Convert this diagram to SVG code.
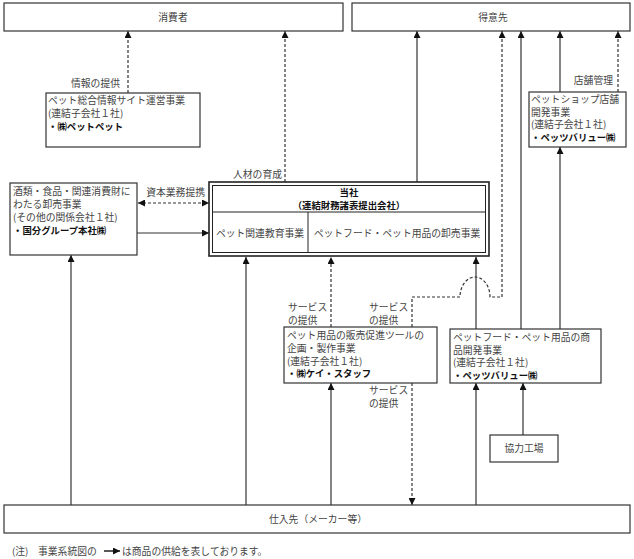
<svg xmlns="http://www.w3.org/2000/svg" width="634" height="559" viewBox="0 0 634 559">
<style>
text{font-family:"Noto Sans CJK JP","Noto Sans",sans-serif;font-size:9.8px;fill:#444}
.b{font-weight:bold;fill:#111;font-size:9.4px}
.c{text-anchor:middle}
.box{fill:#fff;stroke:#333;stroke-width:1.2}
.s{fill:none;stroke:#333;stroke-width:1.2}
.d{fill:none;stroke:#333;stroke-width:1.2;stroke-dasharray:3 2}
</style>
<defs>
<marker id="a" viewBox="0 0 8 8" refX="8" refY="4" markerWidth="7" markerHeight="7" markerUnits="userSpaceOnUse" orient="auto-start-reverse">
<path d="M0,0 L8,4 L0,8 z" fill="#111"/>
</marker>
</defs>
<rect x="0" y="0" width="634" height="559" fill="#fff"/>

<g id="connectors">
<line class="d" x1="128" y1="93" x2="128" y2="31" marker-end="url(#a)"/>
<line class="d" x1="285" y1="182" x2="285" y2="31" marker-end="url(#a)"/>
<line class="s" x1="417" y1="182" x2="417" y2="31" marker-end="url(#a)"/>
<path class="d" d="M412,327 L412,297 L460,297 A15,20 0 0 1 490,297 L502,297 L502,31" marker-end="url(#a)"/>
<line class="s" x1="521" y1="329" x2="521" y2="31" marker-end="url(#a)"/>
<line class="s" x1="560" y1="92" x2="560" y2="31" marker-end="url(#a)"/>
<line class="d" x1="618" y1="92" x2="618" y2="31" marker-end="url(#a)"/>
<line class="s" x1="560" y1="329" x2="560" y2="147" marker-end="url(#a)"/>
<line class="d" x1="138" y1="203" x2="209" y2="203" marker-start="url(#a)" marker-end="url(#a)"/>
<line class="s" x1="137" y1="233" x2="209" y2="233" marker-end="url(#a)"/>
<line class="s" x1="246" y1="505" x2="246" y2="257" marker-end="url(#a)"/>
<line class="d" x1="331" y1="327" x2="331" y2="257" marker-end="url(#a)"/>
<line class="s" x1="476" y1="329" x2="476" y2="257" marker-end="url(#a)"/>
<line class="s" x1="71" y1="505" x2="71" y2="255" marker-end="url(#a)"/>
<line class="s" x1="331" y1="505" x2="331" y2="383" marker-end="url(#a)"/>
<line class="d" x1="412" y1="383" x2="412" y2="505" marker-end="url(#a)"/>
<line class="s" x1="476" y1="505" x2="476" y2="383" marker-end="url(#a)"/>
<line class="s" x1="523" y1="435" x2="523" y2="383" marker-end="url(#a)"/>
</g>

<g id="labels">
<text x="120" y="87" text-anchor="end">情報の提供</text>
<text x="613" y="84" text-anchor="end">店舗管理</text>
<text x="282" y="178" text-anchor="end">人材の育成</text>
<text x="205" y="196" text-anchor="end">資本業務提携</text>
<text x="288" y="311">サービス</text>
<text x="288" y="324">の提供</text>
<text x="369" y="311">サービス</text>
<text x="369" y="324">の提供</text>
<text x="369" y="394">サービス</text>
<text x="369" y="407">の提供</text>
</g>

<g id="consumer">
<rect class="box" x="4" y="3" width="339" height="28"/>
<text class="c" x="173" y="21">消費者</text>
</g>

<g id="customer">
<rect class="box" x="352" y="3" width="278" height="28"/>
<text class="c" x="493" y="21">得意先</text>
</g>

<g id="petpet">
<rect class="box" x="46" y="93" width="154" height="54"/>
<text x="48" y="104">ペット総合情報サイト運営事業</text>
<text x="48" y="117">(連結子会社１社)</text>
<text class="b" x="48" y="130">・㈱ペットペット</text>
</g>

<g id="shop">
<rect class="box" x="529" y="92" width="97" height="55"/>
<text x="531" y="103">ペットショップ店舗</text>
<text x="531" y="115.5">開発事業</text>
<text x="531" y="128">(連結子会社１社)</text>
<text class="b" x="531" y="140.5">・ペッツバリュー㈱</text>
</g>

<g id="kokubu">
<rect class="box" x="10" y="183" width="127" height="72"/>
<text x="13" y="195">酒類・食品・関連消費財に</text>
<text x="13" y="208">わたる卸売事業</text>
<text x="13" y="221">(その他の関係会社１社)</text>
<text class="b" x="13" y="234">・国分グループ本社㈱</text>
</g>

<g id="company">
<rect x="209" y="182" width="280" height="74" fill="#fff" stroke="#222" stroke-width="1.6"/>
<rect x="212.5" y="185.5" width="273" height="67" fill="none" stroke="#222" stroke-width="1"/>
<line x1="212.5" y1="212" x2="485.5" y2="212" stroke="#222" stroke-width="1"/>
<line x1="308" y1="212" x2="308" y2="252.5" stroke="#222" stroke-width="1"/>
<text class="b c" x="349" y="196">当社</text>
<text class="b c" x="349" y="208.5">（連結財務諸表提出会社）</text>
<text class="c" x="260" y="237">ペット関連教育事業</text>
<text class="c" x="397" y="237">ペットフード・ペット用品の卸売事業</text>
</g>

<g id="keistaff">
<rect class="box" x="284" y="327" width="153" height="56"/>
<text x="287" y="339">ペット用品の販売促進ツールの</text>
<text x="287" y="352">企画・製作事業</text>
<text x="287" y="364.5">(連結子会社１社)</text>
<text class="b" x="287" y="377">・㈱ケイ・スタッフ</text>
</g>

<g id="petsvalue">
<rect class="box" x="450" y="329" width="151" height="54"/>
<text x="453" y="341">ペットフード・ペット用品の商</text>
<text x="453" y="353.5">品開発事業</text>
<text x="453" y="366">(連結子会社１社)</text>
<text class="b" x="453" y="378.5">・ペッツバリュー㈱</text>
</g>

<g id="factory">
<rect class="box" x="490" y="435" width="68" height="27"/>
<text class="c" x="524" y="452">協力工場</text>
</g>

<g id="supplier">
<rect class="box" x="4" y="505" width="626" height="28"/>
<text class="c" x="318" y="523">仕入先（メーカー等）</text>
</g>

<g id="note">
<text x="12" y="555">(注)</text>
<text x="38" y="555">事業系統図の</text>
<line x1="104" y1="551" x2="120" y2="551" stroke="#111" stroke-width="1.4" marker-end="url(#a)"/>
<text x="122" y="555">は商品の供給を表しております。</text>
</g>
</svg>
